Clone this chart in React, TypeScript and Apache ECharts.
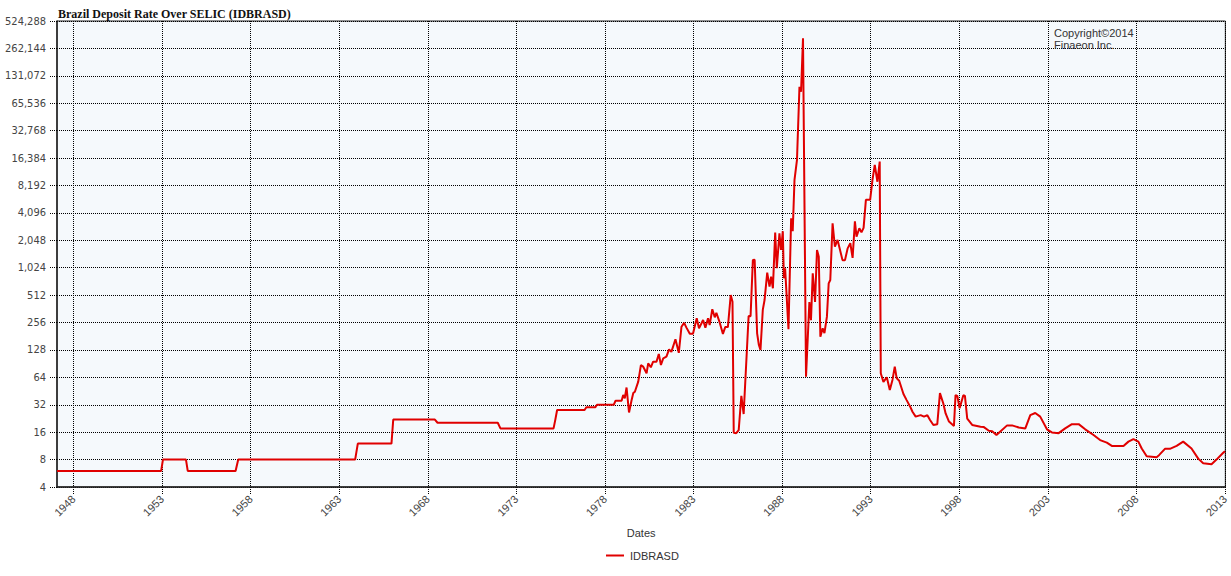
import React, { useEffect, useRef } from "react";
import * as echarts from "echarts";

const TITLE = "Brazil Deposit Rate Over SELIC (IDBRASD)";
const SERIES_NAME = "IDBRASD";

const xTicks = [1948, 1953, 1958, 1963, 1968, 1973, 1978, 1983, 1988, 1993, 1998, 2003, 2008, 2013];
const yTicks = [4, 8, 16, 32, 64, 128, 256, 512, 1024, 2048, 4096, 8192, 16384, 32768, 65536, 131072, 262144, 524288];

// [decimal year, rate]
const early: [number, number][] = [
  [1947.07, 6], [1952.95, 6], [1953.05, 8], [1954.35, 8], [1954.45, 6], [1957.15, 6],
  [1957.3, 8], [1963.9, 8], [1964.05, 12], [1965.95, 12], [1966.05, 22], [1968.4, 22],
  [1968.55, 20.3], [1971.95, 20.3], [1972.1, 17.6], [1975.1, 17.6], [1975.2, 22], [1975.3, 28],
  [1976.85, 28], [1976.95, 30], [1977.45, 30], [1977.55, 32], [1978.5, 32],
];

const eighties: [number, number][] = [
  [1978.6, 35.5], [1978.94, 35.5], [1979.03, 41], [1979.12, 37.7], [1979.22, 49.5], [1979.36, 26.3],
  [1979.5, 35.6], [1979.6, 43], [1979.69, 44.5], [1979.88, 57.5], [1980.03, 87], [1980.16, 83.8],
  [1980.35, 70.9], [1980.44, 91.3], [1980.59, 82.5], [1980.72, 95], [1980.91, 95], [1981.04, 115.5],
  [1981.16, 87.5], [1981.29, 103.6], [1981.47, 108], [1981.62, 130], [1981.75, 122], [1981.98, 168],
  [1982.17, 119], [1982.32, 230], [1982.47, 254], [1982.6, 225], [1982.79, 193], [1982.97, 193],
  [1983.18, 285], [1983.31, 221], [1983.54, 273], [1983.67, 225], [1983.82, 285], [1983.91, 240],
  [1984.06, 358], [1984.2, 292], [1984.29, 328], [1984.48, 255], [1984.66, 192], [1984.79, 228],
  [1984.94, 228], [1985.1, 514], [1985.2, 434], [1985.27, 15.8], [1985.41, 15.6], [1985.55, 16.9],
  [1985.7, 40], [1985.83, 25.3], [1986.11, 302], [1986.22, 300], [1986.35, 1245], [1986.45, 1250],
  [1986.59, 195], [1986.69, 145], [1986.78, 128], [1986.91, 352], [1987.01, 452], [1987.16, 903],
  [1987.29, 634], [1987.38, 816], [1987.48, 608], [1987.61, 2484], [1987.7, 1010], [1987.85, 2445],
  [1987.94, 1603], [1988.04, 2580], [1988.1, 784], [1988.17, 1010], [1988.36, 216], [1988.51, 3573],
  [1988.6, 2580], [1988.7, 9410], [1988.84, 15600], [1988.98, 99300], [1989.07, 87700], [1989.18, 339000],
  [1989.35, 65], [1989.54, 430], [1989.63, 272], [1989.73, 890], [1989.86, 430], [1989.97, 1600],
];

const nineties: [number, number][] = [
  [1990.07, 1353], [1990.16, 179], [1990.29, 221], [1990.39, 196], [1990.53, 297], [1990.63, 690],
  [1990.72, 751], [1990.85, 3150], [1990.98, 1740], [1991.13, 2070], [1991.41, 1240], [1991.55, 1240],
  [1991.7, 1670], [1991.85, 1900], [1991.98, 1310], [1992.11, 3300], [1992.2, 2244], [1992.36, 2775],
  [1992.48, 2500], [1992.6, 2800], [1992.73, 5700], [1992.97, 5700], [1993.1, 9400], [1993.23, 13800],
  [1993.38, 9000], [1993.51, 15000], [1993.57, 71], [1993.72, 57], [1993.91, 64], [1994.08, 46.5],
  [1994.23, 60], [1994.36, 84], [1994.47, 62.5], [1994.61, 58.8], [1994.85, 42], [1995.03, 36],
  [1995.23, 30.5], [1995.36, 26.8], [1995.54, 23.7], [1995.82, 24.6], [1996.01, 23.7], [1996.2, 24.6],
  [1996.35, 21.8], [1996.54, 19.2], [1996.76, 19.6], [1996.91, 43], [1997.1, 33], [1997.23, 25.7],
  [1997.42, 20.9], [1997.7, 18.7], [1997.79, 40.8], [1997.89, 40], [1998.02, 29.3], [1998.23, 40.8],
  [1998.32, 40], [1998.45, 22.5], [1998.73, 19.2], [1999.2, 18.4], [1999.39, 18.2], [1999.67, 16.6],
  [1999.86, 16.4],
];

const recent: [number, number][] = [
  [2000.1, 14.9], [2000.32, 16.3], [2000.7, 19], [2000.98, 19], [2001.36, 18], [2001.73, 17.6],
  [2002.01, 24.6], [2002.29, 26], [2002.57, 23.7], [2002.95, 17.2], [2003.23, 15.9], [2003.61, 15.6],
  [2003.98, 17.6], [2004.36, 19.6], [2004.74, 19.6], [2005.11, 17.2], [2005.58, 14.9], [2005.95, 13.1],
  [2006.33, 12.3], [2006.61, 11.3], [2007.27, 11.3], [2007.55, 12.6], [2007.83, 13.4], [2008.11, 12.6],
  [2008.3, 10.6], [2008.58, 8.7], [2009.14, 8.5], [2009.29, 9.0], [2009.61, 10.5], [2009.89, 10.5],
  [2010.27, 11.3], [2010.64, 12.6], [2011.11, 10.6], [2011.49, 8.2], [2011.77, 7.3], [2012.24, 7.1],
  [2012.52, 8], [2012.9, 9.5], [2013.0, 9.9],
];

const X_MIN = 1947.07;
const X_MAX = 2013.02;
const Y_MIN = 4;
const Y_MAX = 524288;

const SANS = "'Liberation Sans', Arial, sans-serif";
const dotted = { color: "#000", width: 1, type: [1, 1] as number[] };

export default function App() {
  const ref = useRef<HTMLDivElement>(null);
  useEffect(() => {
    if (!ref.current) return;
    const chart = echarts.init(ref.current, null, { renderer: "svg" });
    const data = [...early, ...eighties, ...nineties, ...recent];
    chart.setOption({
      animation: false,
      backgroundColor: "#ffffff",
      title: {
        text: TITLE,
        left: 53,
        top: 3,
        textStyle: { fontFamily: "'Liberation Serif', 'Times New Roman', serif", fontWeight: "bold", fontSize: 12, color: "#111" },
      },
      grid: {
        left: 57,
        right: 2,
        top: 21,
        bottom: 89,
        show: true,
        backgroundColor: "#F5F9FC",
        borderColor: "#222",
        borderWidth: 1,
      },
      xAxis: {
        type: "value",
        min: X_MIN,
        max: X_MAX,
        name: "Dates",
        nameLocation: "middle",
        nameGap: 40,
        nameTextStyle: { fontFamily: SANS, fontSize: 11, color: "#333" },
        axisLine: { show: true, lineStyle: { color: "#222", width: 1.5 } },
        axisTick: { show: true, customValues: xTicks, length: 8, lineStyle: dotted },
        axisLabel: {
          customValues: xTicks,
          rotate: 45,
          margin: 10,
          fontFamily: SANS,
          fontSize: 11,
          color: "#444",
          formatter: (v: number) => String(Math.round(v)),
        },
        splitLine: { show: true, lineStyle: dotted },
      },
      yAxis: {
        type: "log",
        logBase: 2,
        min: Y_MIN,
        max: Y_MAX,
        axisLine: { show: true, lineStyle: { color: "#222", width: 1.5 } },
        axisTick: { show: true, customValues: yTicks, length: 8, lineStyle: dotted },
        axisLabel: {
          customValues: yTicks,
          margin: 11,
          fontFamily: "'Liberation Sans Narrow', 'Arial Narrow', 'DejaVu Sans Condensed', " + SANS,
          fontSize: 11,
          color: "#444",
          formatter: (v: number) => Math.round(Number(v)).toLocaleString("en-US"),
        },
        splitLine: { show: true, lineStyle: dotted },
      },
      legend: {
        data: [{ name: SERIES_NAME, icon: "rect" }],
        left: 601,
        top: 545,
        itemWidth: 18,
        itemHeight: 2,
        itemGap: 10,
        textStyle: { fontFamily: SANS, fontSize: 11, color: "#333", padding: [0, 0, 0, 1] },
      },
      graphic: [
        {
          type: "text",
          left: 1054,
          top: 27,
          z: 100,
          style: {
            text: "Copyright©2014\nFinaeon Inc.",
            font: "11px 'Liberation Sans', Arial, sans-serif",
            fill: "#333",
            lineHeight: 12,
          },
        },
      ],
      series: [
        {
          name: SERIES_NAME,
          type: "line",
          data,
          symbol: "none",
          lineStyle: { color: "#E00000", width: 2 },
          itemStyle: { color: "#E00000" },
        },
      ],
    });
    return () => chart.dispose();
  }, []);
  return (
    <div
      ref={ref}
      style={{ position: "absolute", left: 0, top: 0, width: 1231, height: 576 }}
    />
  );
}
